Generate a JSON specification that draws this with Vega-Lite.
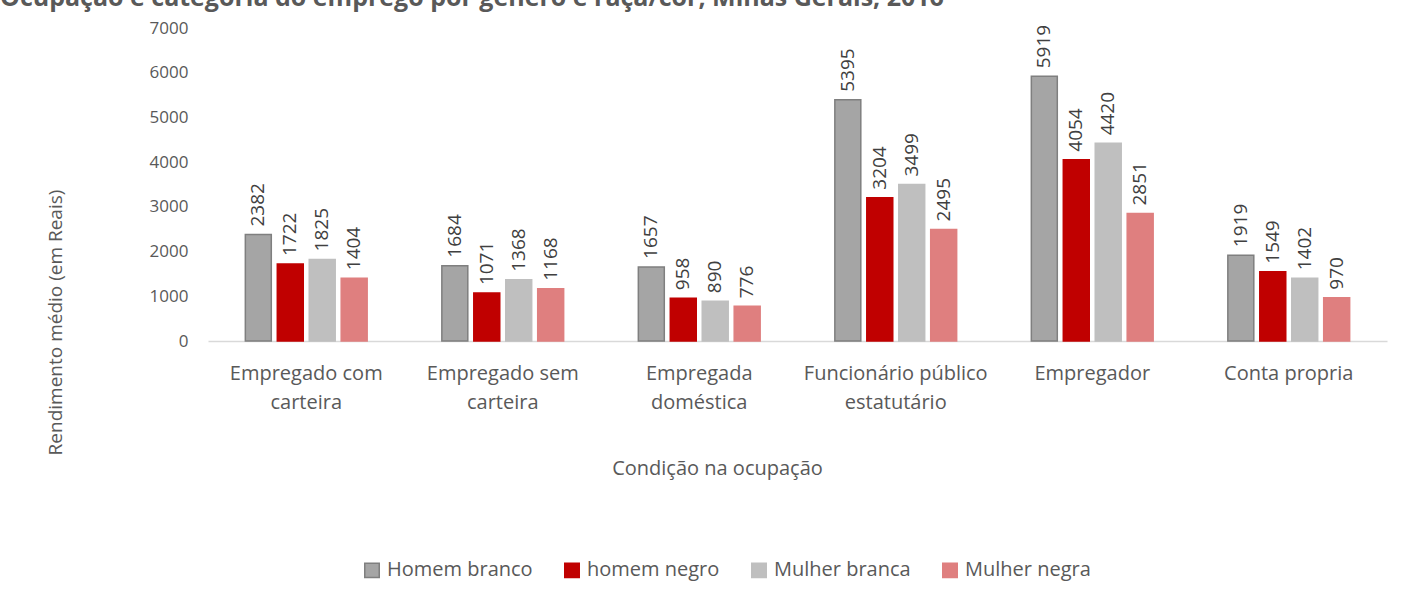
{
  "$schema": "https://vega.github.io/schema/vega-lite/v6.json",
  "autosize": {"type": "none"},
  "width": 1179,
  "height": 313,
  "padding": {"left": 208, "top": 28, "right": 32, "bottom": 257},
  "background": "white",
  "title": {
    "text": "Ocupação e categoria do emprego por gênero e raça/cor, Minas Gerais, 2016",
    "anchor": "start",
    "frame": "group",
    "dx": -208,
    "dy": 26,
    "offset": 14,
    "fontSize": 25,
    "fontWeight": "bold",
    "font": "Open Sans",
    "color": "#595959",
    "baseline": "alphabetic"
  },
  "config": {
    "font": "Open Sans",
    "view": {"stroke": null},
    "axis": {"labelFont": "Open Sans", "titleFont": "Open Sans", "titleFontWeight": "normal"}
  },
  "data": {
    "values": [
      {"cat": "Empregado com|carteira", "grupo": "Homem branco", "v": 2382},
      {"cat": "Empregado com|carteira", "grupo": "homem negro", "v": 1722},
      {"cat": "Empregado com|carteira", "grupo": "Mulher branca", "v": 1825},
      {"cat": "Empregado com|carteira", "grupo": "Mulher negra", "v": 1404},
      {"cat": "Empregado sem|carteira", "grupo": "Homem branco", "v": 1684},
      {"cat": "Empregado sem|carteira", "grupo": "homem negro", "v": 1071},
      {"cat": "Empregado sem|carteira", "grupo": "Mulher branca", "v": 1368},
      {"cat": "Empregado sem|carteira", "grupo": "Mulher negra", "v": 1168},
      {"cat": "Empregada|doméstica", "grupo": "Homem branco", "v": 1657},
      {"cat": "Empregada|doméstica", "grupo": "homem negro", "v": 958},
      {"cat": "Empregada|doméstica", "grupo": "Mulher branca", "v": 890},
      {"cat": "Empregada|doméstica", "grupo": "Mulher negra", "v": 776},
      {"cat": "Funcionário público|estatutário", "grupo": "Homem branco", "v": 5395},
      {"cat": "Funcionário público|estatutário", "grupo": "homem negro", "v": 3204},
      {"cat": "Funcionário público|estatutário", "grupo": "Mulher branca", "v": 3499},
      {"cat": "Funcionário público|estatutário", "grupo": "Mulher negra", "v": 2495},
      {"cat": "Empregador", "grupo": "Homem branco", "v": 5919},
      {"cat": "Empregador", "grupo": "homem negro", "v": 4054},
      {"cat": "Empregador", "grupo": "Mulher branca", "v": 4420},
      {"cat": "Empregador", "grupo": "Mulher negra", "v": 2851},
      {"cat": "Conta propria", "grupo": "Homem branco", "v": 1919},
      {"cat": "Conta propria", "grupo": "homem negro", "v": 1549},
      {"cat": "Conta propria", "grupo": "Mulher branca", "v": 1402},
      {"cat": "Conta propria", "grupo": "Mulher negra", "v": 970}
    ]
  },
  "encoding": {
    "x": {
      "field": "cat",
      "type": "nominal",
      "sort": null,
      "scale": {"paddingInner": 0.38, "paddingOuter": 0.19},
      "axis": {
        "title": "Condição na ocupação",
        "titleFontSize": 20,
        "titleColor": "#595959",
        "titleX": 509,
        "titleY": 127,
        "titleAlign": "center",
        "titleBaseline": "middle",
        "labelAngle": 0,
        "labelExpr": "split(datum.label, '|')",
        "labelFontSize": 20,
        "labelLimit": 300,
        "labelColor": "#595959",
        "labelPadding": 32,
        "labelLineHeight": 29,
        "labelBaseline": "middle",
        "ticks": false,
        "domainColor": "#D9D9D9",
        "domainWidth": 1.5
      }
    },
    "xOffset": {
      "field": "grupo",
      "type": "nominal",
      "sort": ["Homem branco", "homem negro", "Mulher branca", "Mulher negra"],
      "scale": {"paddingInner": 0.1875, "paddingOuter": 0}
    },
    "y": {
      "field": "v",
      "type": "quantitative",
      "scale": {"domain": [0, 7000], "nice": false},
      "axis": {
        "title": "Rendimento médio (em Reais)",
        "titleFontSize": 19,
        "titleColor": "#595959",
        "titleX": -153,
        "titleY": 294,
        "titleAngle": -90,
        "titleAlign": "center",
        "titleBaseline": "middle",
        "values": [0, 1000, 2000, 3000, 4000, 5000, 6000, 7000],
        "format": "d",
        "labelFontSize": 17,
        "labelColor": "#595959",
        "labelPadding": 20,
        "ticks": false,
        "domain": false,
        "grid": false
      }
    }
  },
  "layer": [
    {
      "mark": {"type": "bar", "strokeWidth": 1.5},
      "encoding": {
        "fill": {
          "field": "grupo",
          "type": "nominal",
          "sort": ["Homem branco", "homem negro", "Mulher branca", "Mulher negra"],
          "scale": {
            "domain": ["Homem branco", "homem negro", "Mulher branca", "Mulher negra"],
            "range": ["#A5A5A5", "#C00000", "#BFBFBF", "#DF7F7F"]
          },
          "legend": {
            "title": null,
            "orient": "none",
            "direction": "horizontal",
            "legendX": 154,
            "legendY": 532,
            "symbolType": "square",
            "symbolSize": 210,
            "labelFontSize": 20,
            "labelColor": "#595959",
            "labelFont": "Open Sans",
            "columnPadding": 28,
            "symbolOffset": 0,
            "labelOffset": 5
          }
        },
        "stroke": {
          "field": "grupo",
          "type": "nominal",
          "sort": ["Homem branco", "homem negro", "Mulher branca", "Mulher negra"],
          "scale": {
            "domain": ["Homem branco", "homem negro", "Mulher branca", "Mulher negra"],
            "range": ["#7F7F7F", "#C00000", "#BFBFBF", "#DF7F7F"]
          },
          "legend": {
            "title": null,
            "orient": "none",
            "direction": "horizontal",
            "legendX": 154,
            "legendY": 532,
            "symbolType": "square",
            "symbolSize": 210,
            "labelFontSize": 20,
            "labelColor": "#595959",
            "labelFont": "Open Sans",
            "columnPadding": 28,
            "symbolOffset": 0,
            "labelOffset": 5
          }
        }
      }
    },
    {
      "mark": {
        "type": "text",
        "angle": -90,
        "align": "left",
        "baseline": "middle",
        "dx": 8,
        "fontSize": 19,
        "color": "#404040"
      },
      "encoding": {
        "text": {"field": "v", "type": "quantitative", "format": "d"}
      }
    }
  ]
}
